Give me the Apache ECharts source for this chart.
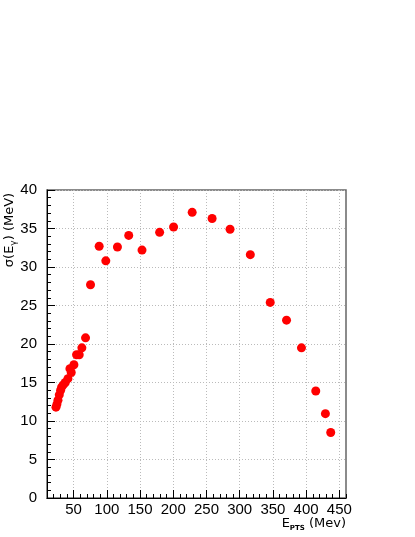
<!DOCTYPE html>
<html>
<head>
<meta charset="utf-8">
<script src="https://cdn.jsdelivr.net/npm/echarts@6/dist/echarts.min.js"></script>
<style>
  html, body { margin: 0; padding: 0; background: #fff; }
  #chart { width: 415px; height: 537px; }
</style>
</head>
<body>
<div id="chart"></div>
<script>
// values
const ePts = [23.5, 25, 26.5, 28.5, 30.5, 32, 34.5, 37.5, 41.5, 44.5, 46.5, 50.5, 54.5, 58.5, 62.5, 68,
  75.5, 88.5, 98.5, 116, 133, 153, 179.5, 200.5, 228.5, 258.5, 285.5, 316, 346, 370.5, 393, 414.5, 429, 437]
const sigma = [11.8, 12.2, 12.7, 13.4, 14.0, 14.4, 14.7, 15.0, 15.5, 16.8, 16.3, 17.3, 18.6, 18.6, 19.5, 20.8,
  27.7, 32.7, 30.8, 32.6, 34.1, 32.2, 34.5, 35.2, 37.1, 36.3, 34.9, 31.6, 25.4, 23.1, 19.5, 13.9, 10.95, 8.5]
const xTicks = [50, 100, 150, 200, 250, 300, 350, 400, 450]

const chart = echarts.init(document.getElementById('chart'))

const font = 'Liberation Sans'
const gridLine = { show: true, lineStyle: { color: '#bbb', width: 1, type: [1, 2] } }

const option = {
  animation: false,
  grid: {
    left: 47, top: 190, width: 299, height: 308,
    show: true, borderColor: '#666', borderWidth: 1.5, backgroundColor: 'transparent'
  },
  xAxis: [
    {
      type: 'value', min: 10, max: 460,
      axisLine: { show: true, onZero: false, lineStyle: { color: '#000', width: 1 } },
      axisTick: { show: true, inside: true, length: 8, customValues: xTicks, lineStyle: { color: '#000' } },
      axisLabel: { customValues: xTicks, color: '#000', fontFamily: font, fontSize: 15, margin: 4 },
      splitLine: gridLine
    },
    {
      type: 'value', min: 10, max: 460, interval: 10, position: 'bottom',
      axisLine: { show: false },
      axisTick: { show: true, inside: true, length: 4, lineStyle: { color: '#000' } },
      axisLabel: { show: false },
      splitLine: { show: false }
    }
  ],
  yAxis: {
    type: 'value', min: 0, max: 40, interval: 5,
    axisLine: { show: true, lineStyle: { color: '#000', width: 1 } },
    axisTick: { show: true, inside: true, length: 8, lineStyle: { color: '#000' } },
    minorTick: { show: true, splitNumber: 5, length: 4, lineStyle: { color: '#000' } },
    axisLabel: { color: '#000', fontFamily: font, fontSize: 15, margin: 10 },
    splitLine: gridLine
  },
  graphic: [
    {
      type: 'text', x: 10, y: 230, rotation: Math.PI / 2,
      style: {
        text: '{a|σ(E}{s|γ}{a|) (MeV)}', align: 'center', verticalAlign: 'middle',
        rich: {
          a: { fontFamily: 'DejaVu Sans', fontSize: 13, lineHeight: 14, fill: '#000' },
          s: { fontFamily: 'DejaVu Sans', fontSize: 9, lineHeight: 17, verticalAlign: 'bottom', fill: '#000' }
        }
      }
    },
    {
      type: 'text', x: 346, y: 524,
      style: {
        text: '{a|E}{s|PTS}{a| (Mev)}', align: 'right', verticalAlign: 'middle',
        rich: {
          a: { fontFamily: 'DejaVu Sans', fontSize: 13, lineHeight: 14, fill: '#000' },
          s: { fontFamily: 'DejaVu Sans', fontSize: 7, fontWeight: 'bold', lineHeight: 16, verticalAlign: 'bottom', fill: '#000' }
        }
      }
    }
  ],
  series: [{
    type: 'scatter',
    xAxisIndex: 0,
    symbol: 'circle',
    symbolSize: 9,
    itemStyle: { color: '#ff0000', opacity: 1 },
    data: ePts.map((x, i) => [x, sigma[i]])
  }]
}

chart.setOption(option)
</script>
</body>
</html>
